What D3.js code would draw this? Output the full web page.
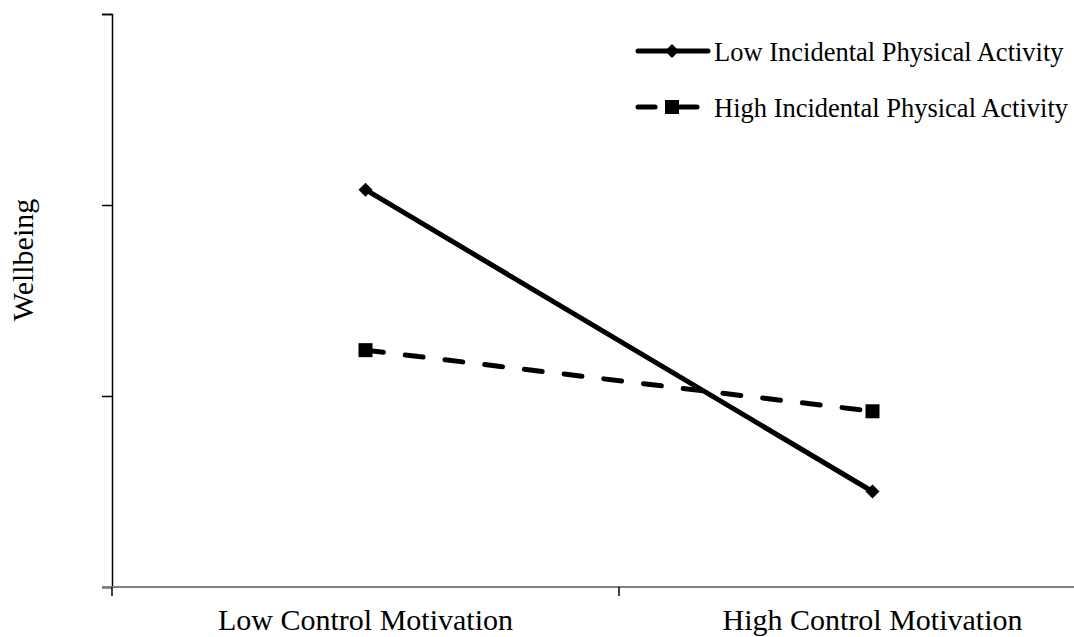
<!DOCTYPE html>
<html>
<head>
<meta charset="utf-8">
<script src="https://cdn.jsdelivr.net/npm/d3@7"></script>
<style>
  body { margin: 0; background: #fff; }
  text { font-family: "Liberation Serif", "Times New Roman", serif; fill: #000; }
</style>
</head>
<body>
<svg id="chart" width="1074" height="637"></svg>
<script>
const categories = ["Low Control Motivation", "High Control Motivation"];
const seriesNames = ["Low Incidental Physical Activity", "High Incidental Physical Activity"];
const lowActivity = [2.08, 0.50];
const highActivity = [1.24, 0.92];
const yTicks = [0, 1, 2, 3];

const svg = d3.select("#chart");
const plotLeft = 112, plotTop = 14, plotBottom = 587, bandW = 507;

const x = d3.scaleBand().domain(categories).range([plotLeft, plotLeft + bandW * 2]);
const y = d3.scaleLinear().domain([0, 3]).range([plotBottom, plotTop]);

// y axis
const yAxis = svg.append("g").attr("transform", `translate(${plotLeft},0)`)
    .call(d3.axisLeft(y).tickValues(yTicks).tickSize(10).tickFormat(""));
yAxis.select(".domain").attr("stroke", "#000").attr("stroke-width", 1.5);
yAxis.selectAll(".tick line").attr("stroke", "#000").attr("stroke-width", 1.5);

// x axis
svg.append("line")
    .attr("x1", plotLeft - 10).attr("x2", 1074)
    .attr("y1", plotBottom).attr("y2", plotBottom)
    .attr("stroke", "#808080").attr("stroke-width", 2);
svg.selectAll(".xtick")
    .data([plotLeft, plotLeft + bandW])
    .join("line")
    .attr("x1", d => d).attr("x2", d => d)
    .attr("y1", plotBottom).attr("y2", plotBottom + 9)
    .attr("stroke", "#000").attr("stroke-width", 1.5);

svg.selectAll(".xlabel")
    .data(categories)
    .join("text")
    .attr("x", d => x(d) + x.bandwidth() / 2)
    .attr("y", 630)
    .attr("text-anchor", "middle")
    .attr("font-size", 30)
    .text(d => d);

svg.append("text")
    .attr("transform", "translate(33,260) rotate(-90)")
    .attr("text-anchor", "middle")
    .attr("font-size", 30)
    .text("Wellbeing");

const line = d3.line()
    .x((d, i) => x(categories[i]) + x.bandwidth() / 2)
    .y(d => y(d));

const series = [
  { name: seriesNames[0], values: lowActivity, dash: null, marker: "diamond" },
  { name: seriesNames[1], values: highActivity, dash: "18,22", marker: "square" }
];

function drawMarker(g, type, cx, cy) {
  if (type === "diamond") {
    g.append("path")
      .attr("d", `M${cx},${cy - 7}L${cx + 7},${cy}L${cx},${cy + 7}L${cx - 7},${cy}Z`)
      .attr("fill", "#000");
  } else {
    g.append("rect")
      .attr("x", cx - 7).attr("y", cy - 7)
      .attr("width", 14).attr("height", 14)
      .attr("fill", "#000");
  }
}

series.forEach(s => {
  const g = svg.append("g");
  g.append("path")
    .attr("d", line(s.values))
    .attr("fill", "none")
    .attr("stroke", "#000")
    .attr("stroke-width", 5)
    .attr("stroke-linecap", "round")
    .attr("stroke-dasharray", s.dash);
  s.values.forEach((v, i) => drawMarker(g, s.marker, x(categories[i]) + x.bandwidth() / 2, y(v)));
});

// legend
const legendY = [51, 107];
series.forEach((s, i) => {
  const g = svg.append("g");
  const ly = legendY[i];
  if (s.dash) {
    g.append("line").attr("x1", 638).attr("x2", 655).attr("y1", ly).attr("y2", ly)
      .attr("stroke", "#000").attr("stroke-width", 5).attr("stroke-linecap", "round");
    g.append("line").attr("x1", 680).attr("x2", 697).attr("y1", ly).attr("y2", ly)
      .attr("stroke", "#000").attr("stroke-width", 5).attr("stroke-linecap", "round");
  } else {
    g.append("line").attr("x1", 638).attr("x2", 708).attr("y1", ly).attr("y2", ly)
      .attr("stroke", "#000").attr("stroke-width", 5).attr("stroke-linecap", "round");
  }
  drawMarker(g, s.marker, 672, ly);
  g.append("text")
    .attr("x", 714).attr("y", ly + 10)
    .attr("font-size", 26.5)
    .text(s.name);
});
</script>
</body>
</html>
